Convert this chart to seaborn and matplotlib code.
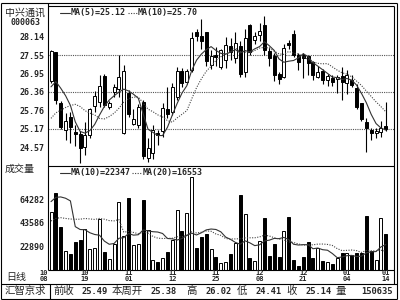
import numpy as np
import pandas as pd
import matplotlib
matplotlib.use("Agg")
import matplotlib.pyplot as plt
import matplotlib.transforms as mtransforms
import seaborn as sns

# ---------------- data ----------------
opens = [26.71, 27.62, 25.99, 25.12, 25.52, 25.05, 24.98, 24.58, 24.96, 25.90,
         26.04, 26.85, 25.88, 26.36, 26.44, 25.02, 26.31, 25.32, 25.28, 26.02,
         24.23, 24.37, 25.02, 25.10, 25.80, 25.70, 26.20, 27.01, 26.69, 27.06,
         28.27, 28.15, 28.27, 27.23, 27.55, 27.17, 27.39, 27.82, 27.44, 27.82,
         27.01, 28.52, 28.03, 28.20, 28.50, 27.66, 27.50, 26.92, 26.85, 27.93,
         28.22, 27.55, 27.55, 27.50, 27.31, 26.85, 27.01, 26.74, 26.80, 26.76,
         26.85, 26.63, 26.71, 26.47, 25.98, 25.38, 25.12, 25.02, 25.07, 25.23]
highs = [27.72, 27.66, 26.05, 25.66, 25.70, 25.30, 25.10, 25.39, 25.85, 26.40,
         26.90, 26.92, 26.05, 26.60, 27.55, 27.23, 26.42, 25.80, 25.95, 26.10,
         24.85, 25.30, 25.12, 26.00, 26.50, 26.65, 27.17, 27.12, 27.10, 28.30,
         28.40, 28.70, 28.30, 27.70, 27.80, 27.75, 28.14, 28.10, 28.30, 28.00,
         28.40, 28.55, 28.30, 28.60, 28.80, 27.80, 27.60, 27.00, 27.90, 28.05,
         28.35, 27.60, 27.60, 27.55, 27.35, 27.20, 27.10, 26.95, 26.90, 26.90,
         27.17, 27.05, 26.90, 26.60, 26.00, 25.50, 25.20, 25.20, 25.40, 26.02]
lows = [26.65, 25.95, 25.15, 24.80, 24.69, 24.60, 24.04, 24.31, 24.85, 25.70,
        25.88, 25.88, 25.80, 26.20, 26.20, 24.98, 25.55, 25.28, 25.20, 24.20,
        24.10, 24.20, 24.64, 24.90, 25.50, 25.60, 26.10, 26.50, 26.60, 27.00,
        28.00, 27.75, 27.20, 27.10, 27.20, 27.10, 27.12, 27.40, 27.30, 26.85,
        26.85, 27.55, 27.90, 28.00, 27.55, 27.20, 26.70, 26.60, 26.80, 27.75,
        27.50, 27.07, 26.80, 26.90, 26.75, 26.80, 26.60, 26.55, 26.55, 26.31,
        26.10, 26.30, 26.50, 25.80, 25.40, 24.41, 24.80, 24.85, 24.90, 25.10]
closes = [27.66, 26.09, 25.23, 25.39, 25.23, 25.00, 24.53, 24.96, 25.80, 26.22,
          26.53, 25.93, 25.98, 26.49, 26.82, 27.01, 25.63, 25.45, 25.84, 24.29,
          24.53, 25.12, 24.95, 25.82, 25.63, 26.50, 27.01, 26.63, 27.01, 28.09,
          28.17, 28.00, 27.35, 27.50, 27.47, 27.70, 27.87, 27.66, 27.93, 26.92,
          28.09, 27.65, 28.16, 28.30, 27.70, 27.44, 26.90, 26.77, 27.77, 27.87,
          27.55, 27.33, 27.44, 27.28, 26.90, 27.00, 26.74, 26.85, 26.69, 26.82,
          26.69, 26.90, 26.58, 25.88, 25.49, 25.18, 25.02, 25.09, 25.17, 25.14]
volumes = [50700, 67700, 37500, 16500, 13600, 24400, 26700, 36100, 18600, 19700,
           44300, 16000, 9800, 23200, 59500, 29700, 63300, 21500, 22400, 61800,
           35500, 9200, 6900, 10400, 15600, 26700, 53000, 34000, 50100, 81700,
           19500, 28800, 32000, 18000, 11600, 6300, 6900, 13600, 23800, 65600,
           49500, 10700, 7700, 25300, 45800, 12700, 22400, 11600, 34600, 46600,
           8500, 3800, 11000, 24500, 10800, 19000, 7600, 7000, 5500, 10200,
           15000, 15000, 13500, 14500, 14500, 47500, 17000, 9000, 46000, 31135]
# sessions before the visible window (only feed the moving averages)
prior_closes = [24.30, 24.40, 24.50, 24.60, 24.60, 25.24, 26.30, 26.60, 26.80]
prior_volumes = [22000, 25000, 30000, 24000, 28000, 26000, 23000, 27000, 29000, 26000,
                 30000, 34000, 28000, 37000, 250000, 52000, 38000, 45000, 35000]

price_ticks = [28.14, 27.55, 26.95, 26.36, 25.76, 25.17, 24.57]
price_grid = [27.55, 26.36, 25.17]
volume_ticks = [64282, 43586, 22890]
date_index = [0, 7, 16, 25, 34, 43, 52, 61, 69]
date_months = ["10", "10", "11", "11", "11", "12", "12", "01", "01"]
date_days = ["08", "19", "01", "12", "25", "08", "21", "04", "14"]
status_items = [("前收", 63.8, "cjk"), ("25.49", 94.5, "num"), ("本周开", 127.5, "cjk"),
                ("25.38", 164, "num"), ("高", 191.7, "cjk"), ("26.02", 219, "num"),
                ("低", 242, "cjk"), ("24.41", 269, "num"), ("收", 292, "cjk"),
                ("25.14", 319, "num"), ("量", 341, "cjk"), ("150635", 377, "num")]

# ---------------- derived series ----------------
n = len(closes)
idx = np.arange(n)
o = np.array(opens); c = np.array(closes); h = np.array(highs); l = np.array(lows)
v = np.array(volumes, dtype=float)
all_c = pd.Series(list(prior_closes) + list(closes))
ma5 = all_c.rolling(5).mean().values[len(prior_closes):]
ma10 = all_c.rolling(10).mean().values[len(prior_closes):]
all_v = pd.Series(list(prior_volumes) + list(volumes), dtype=float)
vma10 = all_v.rolling(10).mean().values[len(prior_volumes):]
vma20 = all_v.rolling(20).mean().values[len(prior_volumes):]
up = c >= o

# ---------------- style ----------------
sns.set_style("white")
plt.rcParams['font.family'] = ['DejaVu Sans Mono', 'Noto Sans CJK SC']
CJK = ['Noto Sans CJK SC', 'DejaVu Sans']
MONO = ['DejaVu Sans Mono']

W, H = 400, 300
fig = plt.figure(figsize=(4, 3), dpi=100)
fig.patch.set_facecolor("white")

def rect(x0, y0, x1, y1):
    return [x0 / W, 1 - y1 / H, (x1 - x0) / W, (y1 - y0) / H]

XL = (-0.62, 70.6)
solid_kw = dict(color="#333333", linewidth=0.8)
dot_kw = dict(color="#444444", linewidth=0.8, linestyle=(0, (1, 1.3)))

# ---------------- price panel ----------------
axp = fig.add_axes(rect(48, 6, 393.5, 165.5))
axp.set_xlim(*XL)
axp.set_ylim(23.974, 29.136)
for g in price_grid:
    axp.axhline(g, color="#555555", linewidth=0.8, linestyle=(0, (1, 1)), zorder=0)
axp.vlines(idx, l, h, color="black", linewidth=0.8, zorder=2)
axp.bar(idx, np.abs(c - o) + 0.015, bottom=np.minimum(o, c), width=0.62,
        color=np.where(up, "white", "black"), edgecolor="black", linewidth=0.7, zorder=3)
sns.lineplot(x=idx, y=ma5, ax=axp, legend=False, zorder=4, **solid_kw)
sns.lineplot(x=idx, y=ma10, ax=axp, legend=False, zorder=4, **dot_kw)
axp.set_yticks(price_ticks)
axp.set_yticklabels([f"{t:.2f}" for t in price_ticks], fontsize=6, fontweight="bold",
                    family=MONO)
axp.tick_params(axis="y", length=0, pad=2.2)
axp.set_xticks([])
axp.set_xlabel(""); axp.set_ylabel("")
for s in axp.spines.values():
    s.set_visible(False)

# ---------------- volume panel ----------------
axv = fig.add_axes(rect(48, 165.5, 393.5, 270))
axv.set_xlim(*XL)
axv.set_ylim(0, 91650)
axv.bar(idx, v, width=0.62, color=np.where(up, "white", "black"),
        edgecolor="black", linewidth=0.7, zorder=2)
sns.lineplot(x=idx, y=vma10, ax=axv, legend=False, zorder=4, **solid_kw)
sns.lineplot(x=idx, y=vma20, ax=axv, legend=False, zorder=4, **dot_kw)
axv.set_yticks(volume_ticks)
axv.set_yticklabels([str(t) for t in volume_ticks], fontsize=6, fontweight="bold",
                    family=MONO)
axv.tick_params(axis="y", length=0, pad=2.2)
shift = mtransforms.ScaledTranslation(0, -2.5 / 100, fig.dpi_scale_trans)
for lab in axv.get_yticklabels():
    lab.set_transform(lab.get_transform() + shift)
axv.set_xticks([])
axv.set_xlabel(""); axv.set_ylabel("")
for s in axv.spines.values():
    s.set_visible(False)

# ---------------- overlay: frame, headers, status bar ----------------
ov = fig.add_axes([0, 0, 1, 1], zorder=10)
ov.set_xlim(0, W); ov.set_ylim(H, 0); ov.axis("off")
ov.patch.set_alpha(0)
lk = dict(color="black", linewidth=0.8, solid_capstyle="butt")
# outer frame
ov.plot([0.5, 397], [2.5, 2.5], **lk)
ov.plot([1, 1], [2.5, 299], **lk)
ov.plot([397, 397], [2.5, 299], **lk)
ov.plot([0.5, 397], [299, 299], **lk)
# inner frame
ov.plot([48, 393.5], [6, 6], **lk)
ov.plot([393.5, 393.5], [6, 283.5], **lk)
ov.plot([48, 48], [2.5, 270], **lk)
ov.plot([48, 393.5], [165.5, 165.5], **lk)
ov.plot([48, 393.5], [270, 270], **lk)
ov.plot([1, 397], [283.5, 283.5], **lk)
ov.plot([49.5, 49.5], [283.5, 299], **lk)

# header texts
ov.text(25, 13, "中兴通讯", family=CJK, fontsize=7.2, ha="center", va="center")
ov.text(25.5, 22.5, "000063", family=MONO, fontsize=6, fontweight="bold", ha="center", va="center")
ov.text(5, 168.5, "成交量", family=CJK, fontsize=7.2, ha="left", va="center")
ov.text(6, 277, "日线", family=CJK, fontsize=7.2, ha="left", va="center")

# legends
ov.plot([60, 70], [13, 13], color="#333333", linewidth=0.8)
ov.text(71, 13, "MA(5)=25.12", family=MONO, fontsize=6, fontweight="bold", ha="left", va="center")
ov.plot([128, 137], [13, 13], color="#444444", linewidth=0.8, linestyle=(0, (1, 1.3)))
ov.text(138, 13, "MA(10)=25.70", family=MONO, fontsize=6, fontweight="bold", ha="left", va="center")
ov.plot([60, 70], [172.5, 172.5], color="#333333", linewidth=0.8)
ov.text(71, 172.5, "MA(10)=22347", family=MONO, fontsize=6, fontweight="bold", ha="left", va="center")
ov.plot([132, 142], [172.5, 172.5], color="#444444", linewidth=0.8, linestyle=(0, (1, 1.3)))
ov.text(143, 172.5, "MA(20)=16553", family=MONO, fontsize=6, fontweight="bold", ha="left", va="center")

# date labels (x in data units of the volume panel, y in pixels)
bt = mtransforms.blended_transform_factory(axv.transData, ov.transData)
for k, (di, mo, dd) in enumerate(zip(date_index, date_months, date_days)):
    xx = di - 0.6 if k == 0 else di
    ha = "right" if k == 0 else "center"
    ov.text(xx, 273, mo, transform=bt, family=MONO, fontsize=5, fontweight="bold", ha=ha, va="center")
    ov.text(xx, 278.6, dd, transform=bt, family=MONO, fontsize=5, fontweight="bold", ha=ha, va="center")

# status bar
ov.text(25, 291.3, "汇智京求", family=CJK, fontsize=7.5, ha="center", va="center")
for txt, xc, kind in status_items:
    if kind == "cjk":
        ov.text(xc, 291.3, txt, family=CJK, fontsize=7.5, ha="center", va="center")
    else:
        ov.text(xc, 291.3, txt, family=MONO, fontsize=6.3, fontweight="bold", ha="center", va="center")

fig.savefig("out.png", dpi=100, facecolor="white")
